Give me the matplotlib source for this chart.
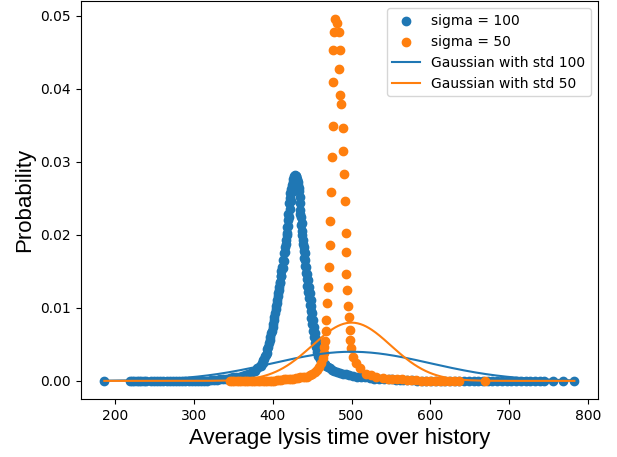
import numpy as np
import matplotlib
matplotlib.use('Agg')
import matplotlib.pyplot as plt

# sigma = 100 : (average lysis time, probability)
blue_tail_l_x = [186, 218, 221, 224, 227, 230, 233, 236, 239, 245, 249, 253, 257, 261, 265,
                 269, 273, 277, 281, 285, 289, 293, 297, 301, 305, 309, 313, 317, 321, 325,
                 329, 333, 337, 341, 345, 349, 353, 357, 361, 365, 369, 373, 377, 380]
blue_tail_l_y = [0, 0, 0, 0, 0, 0, 0, 0, 0, 0, 0, 0, 0, 0, 0,
                 0, 0, 0, 0, 0, 0, 0, 0, 0, 0, 0, 0, 0, 0.0001, 0.0001,
                 0.0001, 0.0002, 0.0002, 0.0003, 0.0004, 0.0005, 0.0005, 0.0006, 0.0007, 0.0008,
                 0.0010, 0.0012, 0.0014, 0.0017]
blue_peak_x = [383.5, 386, 388, 390, 392, 394, 396, 398, 399.6, 401, 402.5, 404, 405.5, 407,
               408, 409, 410, 411, 412, 413, 414, 415, 416.5, 417.5, 418.2, 419, 419.5, 420.7,
               421.5, 422.4, 423.3, 424.1, 425, 425.8, 427, 428,
               429, 430, 431, 432, 433, 434, 435, 436, 436.5, 437.5, 438.5, 439.5, 440.6, 441.5,
               442.7, 443.7, 444.8, 446, 447, 448, 449, 450, 451, 452, 453, 454.3, 455.4, 457,
               458.8, 461, 464, 468, 472, 478, 485, 493, 502, 512, 523, 535, 547, 557]
blue_peak_y = [0.0020, 0.0025, 0.0029, 0.0034, 0.0038, 0.0047, 0.0056, 0.0065, 0.0074, 0.0083,
               0.0093, 0.0102, 0.0111, 0.0120, 0.0129, 0.0136, 0.0143, 0.0150, 0.0156, 0.0166,
               0.0175, 0.0184, 0.0193, 0.0202, 0.0211, 0.0220, 0.0229, 0.0243, 0.0250, 0.0257,
               0.0263, 0.0268, 0.0273, 0.0277, 0.0280, 0.0282,
               0.0281, 0.0280, 0.0275, 0.0268, 0.0260, 0.0252, 0.0234, 0.0225, 0.0216, 0.0205,
               0.0193, 0.0184, 0.0175, 0.0166, 0.0156, 0.0147, 0.0138, 0.0129, 0.0120, 0.0111,
               0.0102, 0.0093, 0.0083, 0.0074, 0.0065, 0.0058, 0.0052, 0.0045, 0.0038, 0.0032,
               0.0026, 0.0021, 0.0017, 0.0014, 0.0011, 0.0009, 0.0007, 0.0005, 0.0004, 0.0003,
               0.0002, 0.0001]
# second row of points that makes the peak look as thick as in the picture
blue_fill_x = [385, 387, 389, 391, 393, 395, 397, 399, 400.5, 402, 403.5, 405, 406.5, 408,
               409.5, 411, 412.5, 414, 415.5, 417, 418.5, 419.5, 420.5, 421.5, 423, 424.5, 426,
               427.5, 429,
               430.5, 432, 433, 434, 435, 436, 437, 438, 439, 440, 441, 442, 443, 444, 445, 446,
               447, 448, 449, 450, 451, 452, 453.5, 455, 456.5, 458, 460, 462, 466, 470, 475,
               481, 489, 497, 507, 517, 529, 541, 552, 561]
blue_fill_y = [0.0020, 0.0024, 0.0030, 0.0036, 0.0044, 0.0052, 0.0060, 0.0068, 0.0078, 0.0088,
               0.0098, 0.0106, 0.0116, 0.0124, 0.0134, 0.0144, 0.0154, 0.0164, 0.0176, 0.0188,
               0.0200, 0.0212, 0.0224, 0.0236, 0.0246, 0.0258, 0.0266, 0.0274, 0.0278,
               0.0276, 0.0272, 0.0264, 0.0244, 0.0228, 0.0214, 0.0200, 0.0188, 0.0178, 0.0168,
               0.0158, 0.0148, 0.0140, 0.0130, 0.0122, 0.0114, 0.0104, 0.0096, 0.0086, 0.0078,
               0.0068, 0.0060, 0.0052, 0.0046, 0.0040, 0.0034, 0.0030, 0.0027, 0.0023, 0.0019,
               0.0015, 0.0012, 0.0010, 0.0008, 0.0006, 0.0005, 0.0003, 0.0002, 0.0002, 0.0001]
blue_tail_r_x = [565, 571, 577, 583, 589, 595, 601, 607, 613, 619, 625, 631, 637, 643, 649,
                 655, 661, 667, 673, 679, 685, 691, 697, 703, 709, 715, 721, 727, 733, 739,
                 744, 756, 769, 783]
blue_tail_r_y = [0.0001, 0.0001, 0.0001, 0, 0, 0, 0, 0, 0, 0, 0, 0, 0, 0, 0,
                 0, 0, 0, 0, 0, 0, 0, 0, 0, 0, 0, 0, 0, 0, 0,
                 0, 0, 0, 0]

# sigma = 50
orange_tail_l_x = [345, 348, 351, 354, 357, 360, 363, 366, 369, 372, 375, 378, 381, 384, 387,
                   390, 393, 396, 399, 402, 405, 408, 411, 414, 417, 420, 423, 426, 429, 432,
                   435, 438, 441, 444, 447, 450, 453, 456, 459, 461.8, 463.5, 464.7, 465.5, 466]
orange_tail_l_y = [0, 0, 0, 0, 0, 0, 0, 0, 0, 0, 0, 0, 0, 0, 0,
                   0, 0, 0, 0, 0, 0.0001, 0.0001, 0.0001, 0.0002, 0.0002, 0.0002, 0.0003, 0.0003,
                   0.0004, 0.0004, 0.0005, 0.0005, 0.0006, 0.0006, 0.0008, 0.0010, 0.0012, 0.0015,
                   0.0019, 0.0024, 0.0032, 0.0038, 0.0046, 0.0054]
orange_peak_x = [467.3, 468.1, 469.0, 470.2, 471.5, 472.4, 473.2, 474.5, 475.3, 476.0, 476.6,
                 477.0, 477.4, 479.5, 481.5, 484.2, 485.0, 484.6, 485.4, 487.2, 488.9, 488.9,
                 490.1, 491.4, 492.5, 492.9, 493.5, 494.8, 495.6, 496.9, 497.8, 498.6, 499.9,
                 502.0, 505.4, 510.4, 518.9, 525.0, 531.6]
orange_peak_y = [0.0068, 0.0083, 0.0107, 0.0128, 0.0156, 0.0186, 0.0219, 0.0259, 0.0307, 0.0349,
                 0.0410, 0.0453, 0.0478, 0.0495, 0.0490, 0.0478, 0.0453, 0.0427, 0.0391, 0.0379,
                 0.0347, 0.0315, 0.0284, 0.0246, 0.0202, 0.0176, 0.0146, 0.0125, 0.0103, 0.0088,
                 0.0070, 0.0056, 0.0045, 0.0033, 0.0024, 0.0017, 0.0010, 0.0008, 0.0006]
orange_tail_r_x = [540, 546, 552, 558, 564, 570, 576, 582, 588, 594, 600, 606, 612, 618, 624,
                   630, 637, 669]
orange_tail_r_y = [0.0004, 0.0003, 0.0003, 0.0002, 0.0002, 0.0001, 0.0001, 0.0001, 0, 0, 0, 0,
                   0, 0, 0, 0, 0, 0]

# reference gaussians from the legend
gauss_mean = 500
gauss_stds = [100, 50]
gauss_range = (186, 783)

blue_x = blue_tail_l_x + blue_peak_x + blue_fill_x + blue_tail_r_x
blue_y = blue_tail_l_y + blue_peak_y + blue_fill_y + blue_tail_r_y
orange_x = orange_tail_l_x + orange_peak_x + orange_tail_r_x
orange_y = orange_tail_l_y + orange_peak_y + orange_tail_r_y

fig, ax = plt.subplots(figsize=(6.17, 4.57), dpi=100)
fig.subplots_adjust(left=0.131, right=0.969, top=0.997, bottom=0.127)

ax.scatter(blue_x, blue_y, label='sigma = 100')
ax.scatter(orange_x, orange_y, label='sigma = 50')

t = np.linspace(gauss_range[0], gauss_range[1], 500)
for std in gauss_stds:
    g = np.exp(-(t - gauss_mean) ** 2 / (2 * std ** 2)) / (std * np.sqrt(2 * np.pi))
    ax.plot(t, g, label='Gaussian with std ' + str(std))

ax.set_xlabel('Average lysis time over history', fontsize=16, family='Liberation Sans')
ax.set_ylabel('Probability', fontsize=16, family='Liberation Sans')
ax.legend(loc='upper right')

fig.savefig('out.png', dpi=100)
